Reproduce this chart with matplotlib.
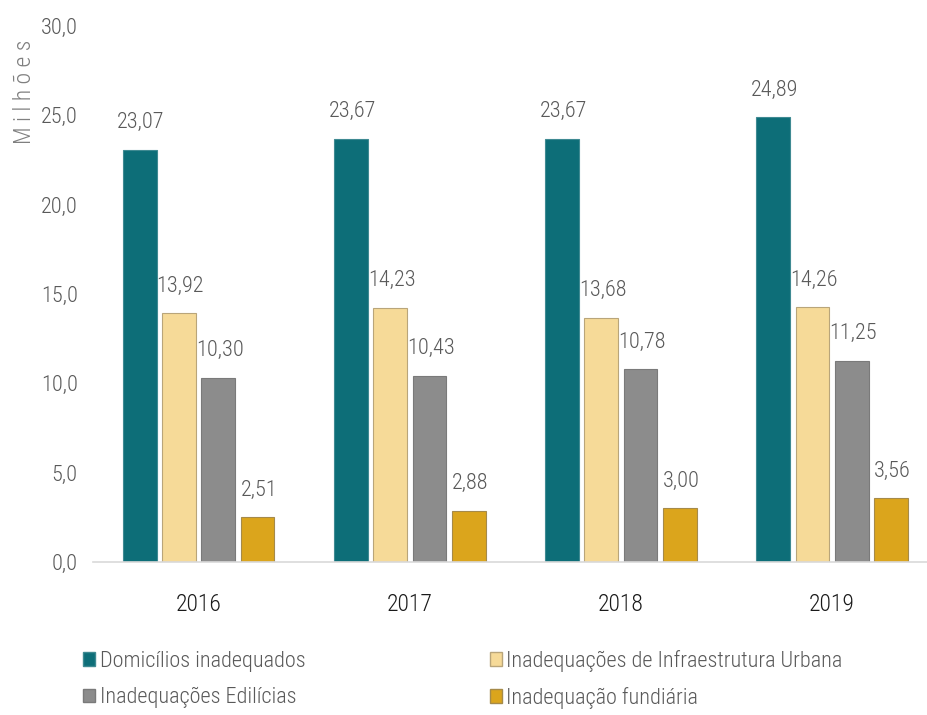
import matplotlib.pyplot as plt
import numpy as np
from matplotlib.patches import Patch

plt.rcParams['font.family'] = ['Roboto Condensed', 'Liberation Sans Narrow', 'DejaVu Sans']

anos = ['2016', '2017', '2018', '2019']
series = ['Domicílios inadequados', 'Inadequações de Infraestrutura Urbana',
          'Inadequações Edilícias', 'Inadequação fundiária']
domicilios = [23.07, 23.67, 23.67, 24.89]
infraestrutura = [13.92, 14.23, 13.68, 14.26]
edilicias = [10.30, 10.43, 10.78, 11.25]
fundiaria = [2.51, 2.88, 3.00, 3.56]

valores = [domicilios, infraestrutura, edilicias, fundiaria]
cores = ['#0d6e78', '#f6da98', '#8c8c8c', '#dba51c']
bordas = ['#3f8a92', '#b9a57a', '#7a7a7a', '#a58a4a']
texto = '#595959'

fig = plt.figure(figsize=(9.28, 7.15), dpi=100)
ax = fig.add_axes([93 / 928, 153 / 715, 835 / 928, 536 / 715])

x = np.arange(len(anos))
w = 0.16
passo = 0.186
for i, (vals, cor, borda) in enumerate(zip(valores, cores, bordas)):
    pos = x + (i - 1.5) * passo
    ax.bar(pos, vals, w, color=cor, edgecolor=borda, linewidth=0.8, zorder=2)
    for px, v in zip(pos, vals):
        ax.annotate(f'{v:.2f}'.replace('.', ','), (px, v), xytext=(1, 12),
                    textcoords='offset points', ha='center', va='bottom',
                    fontsize=16, color=texto, fontweight='light')

ax.set_ylim(0, 30)
ax.set_xlim(-0.5, 3.454)
ax.set_yticks(np.arange(0, 31, 5))
ax.set_yticklabels([f'{t:.1f}'.replace('.', ',') for t in np.arange(0, 31, 5)],
                   fontweight='light')
ax.set_xticks(x)
ax.set_xticklabels(anos, fontweight='light')
ax.tick_params(axis='y', length=0, labelsize=16, labelcolor=texto, pad=11)
ax.tick_params(axis='x', length=0, labelsize=17, labelcolor='#1a1a1a', pad=22)
for s in ['left', 'right', 'top']:
    ax.spines[s].set_visible(False)
ax.spines['bottom'].set_color('#d9d9d9')
ax.spines['bottom'].set_linewidth(1.2)

fig.text(25 / 928, 1 - 92 / 715, 'M i l h õ e s', rotation=90, ha='center', va='center',
         fontsize=17, color='#7f7f7f', fontweight='light')

handles = [Patch(facecolor=cores[i], edgecolor=bordas[i]) for i in range(4)]
ordem = [0, 2, 1, 3]
fig.legend([handles[i] for i in ordem], [series[i] for i in ordem], ncol=2,
           loc='upper left', bbox_to_anchor=(63 / 928, 1 - 630 / 715),
           frameon=False, prop={'size': 16, 'weight': 'light'}, labelcolor=texto,
           handlelength=0.55, handleheight=0.55, handletextpad=0.2,
           columnspacing=8.3, labelspacing=0.68)

fig.savefig('out.png', dpi=100)
